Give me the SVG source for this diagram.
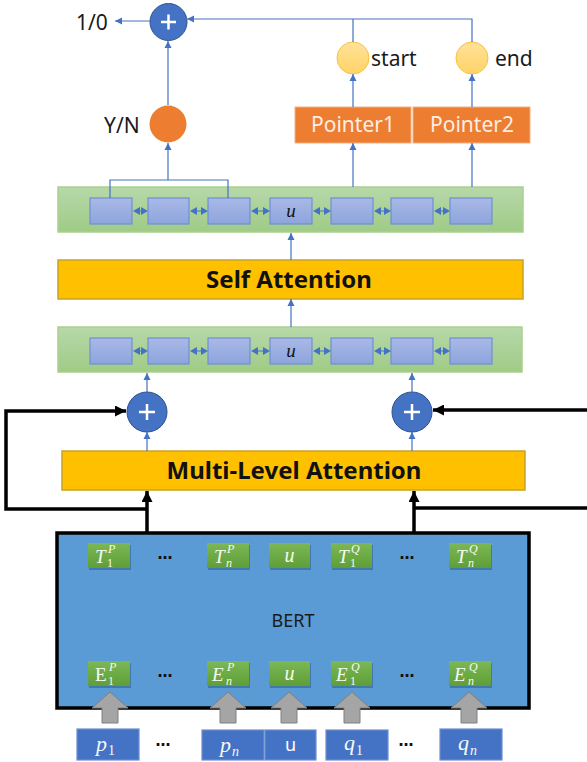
<svg xmlns="http://www.w3.org/2000/svg" width="587" height="762" viewBox="0 0 587 762">
<defs>
<style>
.lbl{font-family:"Noto Sans","DejaVu Sans",sans-serif;fill:#1a1a1a}
.big{font-family:"Noto Sans","DejaVu Sans",sans-serif;font-weight:bold;font-size:24px;fill:#111;text-anchor:middle}
.ptr{font-family:"Noto Sans","DejaVu Sans",sans-serif;font-size:21px;fill:#FCEEE4;text-anchor:middle}
.mw{font-family:"Liberation Serif","DejaVu Serif",serif;fill:#F7FAF4}
.i{font-style:italic}
.dots{font-family:"DejaVu Sans",sans-serif;font-size:15px;font-weight:bold;fill:#111;text-anchor:middle}
.bl{stroke:#4472C4;stroke-width:1.2;fill:none}
.bk{stroke:#000;stroke-width:3.5;fill:none}
.panel{fill:url(#gp);stroke:#A9D18E;stroke-width:1.5}
.cell{fill:url(#gc);stroke:#6F90D3;stroke-width:1.2}
.gcell{fill:url(#gg)}
.sh{fill:#2E5D8A;opacity:.55}
.bot{fill:#4472C4;stroke:#6D8ED0;stroke-width:1.2}
.gray{fill:#A5A5A5;stroke:#808080;stroke-width:1}
.plus{fill:#4472C4;stroke:#2F528F;stroke-width:1}
.pl{stroke:#fff;stroke-width:2.5}
.att{fill:#FFC000;stroke:#C9A227;stroke-width:1.5}
.or{fill:#ED7D31;stroke:#F4B183;stroke-width:1}
.yc{fill:url(#gy);stroke:#F5C244;stroke-width:1}
.da{fill:#4472C4}
</style>
<linearGradient id="gp" x1="0" y1="0" x2="0" y2="1"><stop offset="0" stop-color="#B7D8A9"/><stop offset="1" stop-color="#9FCB86"/></linearGradient>
<linearGradient id="gc" x1="0" y1="0" x2="0" y2="1"><stop offset="0" stop-color="#A9B9E7"/><stop offset="1" stop-color="#8DA4DC"/></linearGradient>
<linearGradient id="gg" x1="0" y1="0" x2="0" y2="1"><stop offset="0" stop-color="#7CB855"/><stop offset="1" stop-color="#5E9E38"/></linearGradient>
<linearGradient id="gy" x1="0" y1="0" x2="0" y2="1"><stop offset="0" stop-color="#FFE29A"/><stop offset="1" stop-color="#FFD366"/></linearGradient>
<marker id="ab" viewBox="0 0 10 10" refX="10" refY="5" markerWidth="7" markerHeight="8" markerUnits="userSpaceOnUse" orient="auto"><path d="M0,0 L10,5 L0,10 z" fill="#4472C4"/></marker>
<marker id="ak" viewBox="0 0 10 10" refX="10" refY="5" markerWidth="11" markerHeight="11" markerUnits="userSpaceOnUse" orient="auto"><path d="M0,0 L10,5 L0,10 z" fill="#000"/></marker>
</defs>
<rect width="587" height="762" fill="#fff"/>

<!-- BERT block -->
<g id="bert">
<rect x="57" y="533" width="472" height="175" fill="#5B9BD5" stroke="#000" stroke-width="3.5"/>
<text class="lbl" x="293" y="627" font-size="18" text-anchor="middle" fill="#0d0d0d">BERT</text>
</g>
<g id="t-row">
<rect class="sh" x="89" y="545" width="42" height="25"/><rect class="gcell" x="88" y="543" width="42" height="25"/>
<text class="mw" font-size="19"><tspan class="i" x="95" y="563">T</tspan><tspan font-size="12" x="107" y="567">1</tspan><tspan class="i" font-size="12" x="108" y="553">P</tspan></text>
<text class="dots" x="165" y="559">…</text>
<rect class="sh" x="208" y="545" width="42" height="25"/><rect class="gcell" x="207" y="543" width="42" height="25"/>
<text class="mw" font-size="19"><tspan class="i" x="214" y="563">T</tspan><tspan class="i" font-size="12" x="226" y="567">n</tspan><tspan class="i" font-size="12" x="227" y="553">P</tspan></text>
<rect class="sh" x="270" y="545" width="41" height="25"/><rect class="gcell" x="269" y="543" width="41" height="25"/>
<text class="mw i" x="289.5" y="562" font-size="20" text-anchor="middle">u</text>
<rect class="sh" x="332" y="545" width="41" height="25"/><rect class="gcell" x="331" y="543" width="41" height="25"/>
<text class="mw" font-size="19"><tspan class="i" x="338" y="563">T</tspan><tspan font-size="12" x="350" y="567">1</tspan><tspan class="i" font-size="12" x="351" y="553">Q</tspan></text>
<text class="dots" x="407" y="559">…</text>
<rect class="sh" x="450" y="545" width="42" height="25"/><rect class="gcell" x="449" y="543" width="42" height="25"/>
<text class="mw" font-size="19"><tspan class="i" x="456" y="563">T</tspan><tspan class="i" font-size="12" x="468" y="567">n</tspan><tspan class="i" font-size="12" x="469" y="553">Q</tspan></text>
</g>
<g id="e-row">
<rect class="sh" x="89" y="663" width="42" height="25"/><rect class="gcell" x="88" y="661" width="42" height="25"/>
<text class="mw" font-size="19"><tspan x="95" y="681">E</tspan><tspan font-size="12" x="108" y="685">1</tspan><tspan class="i" font-size="12" x="109" y="671">P</tspan></text>
<text class="dots" x="165" y="677">…</text>
<rect class="sh" x="208" y="663" width="42" height="25"/><rect class="gcell" x="207" y="661" width="42" height="25"/>
<text class="mw" font-size="19"><tspan class="i" x="212" y="681">E</tspan><tspan class="i" font-size="12" x="226" y="685">n</tspan><tspan class="i" font-size="12" x="227" y="671">P</tspan></text>
<rect class="sh" x="270" y="663" width="41" height="25"/><rect class="gcell" x="269" y="661" width="41" height="25"/>
<text class="mw i" x="289.5" y="680" font-size="20" text-anchor="middle">u</text>
<rect class="sh" x="332" y="663" width="41" height="25"/><rect class="gcell" x="331" y="661" width="41" height="25"/>
<text class="mw" font-size="19"><tspan class="i" x="336" y="681">E</tspan><tspan font-size="12" x="350" y="685">1</tspan><tspan class="i" font-size="12" x="351" y="671">Q</tspan></text>
<text class="dots" x="407" y="677">…</text>
<rect class="sh" x="450" y="663" width="42" height="25"/><rect class="gcell" x="449" y="661" width="42" height="25"/>
<text class="mw" font-size="19"><tspan class="i" x="454" y="681">E</tspan><tspan class="i" font-size="12" x="468" y="685">n</tspan><tspan class="i" font-size="12" x="469" y="671">Q</tspan></text>
</g>

<!-- gray input arrows -->
<g id="inputs-arrows">
<polygon class="gray" points="110,692 128,708 118,708 118,723 102,723 102,708 92,708"/>
<polygon class="gray" points="228,692 246,708 236,708 236,723 220,723 220,708 210,708"/>
<polygon class="gray" points="289,692 307,708 297,708 297,723 281,723 281,708 271,708"/>
<polygon class="gray" points="352,692 370,708 360,708 360,723 344,723 344,708 334,708"/>
<polygon class="gray" points="469,692 487,708 477,708 477,723 461,723 461,708 451,708"/>
</g>
<g id="inputs">
<rect class="bot" x="77" y="729" width="62" height="31"/>
<text class="mw" font-size="22"><tspan class="i" x="96" y="751">p</tspan><tspan font-size="14" x="108" y="755">1</tspan></text>
<text class="dots" x="163" y="746">…</text>
<rect class="bot" x="202" y="730" width="62" height="30"/>
<text class="mw" font-size="22"><tspan class="i" x="220" y="752">p</tspan><tspan class="i" font-size="14" x="232" y="756">n</tspan></text>
<rect class="bot" x="265" y="730" width="51" height="30"/>
<text x="290.5" y="751" font-size="18" font-family="Noto Sans, DejaVu Sans, sans-serif" fill="#fff" text-anchor="middle">u</text>
<rect class="bot" x="326" y="730" width="62" height="30"/>
<text class="mw" font-size="22"><tspan class="i" x="344" y="750">q</tspan><tspan font-size="14" x="356" y="755">1</tspan></text>
<text class="dots" x="406" y="746">…</text>
<rect class="bot" x="440" y="729" width="62" height="31"/>
<text class="mw" font-size="22"><tspan class="i" x="458" y="750">q</tspan><tspan class="i" font-size="14" x="470" y="755">n</tspan></text>
</g>

<!-- Multi-Level Attention -->
<g id="mla">
<rect class="att" x="62" y="451" width="463" height="39"/>
<text class="big" x="294" y="479">Multi-Level Attention</text>
</g>
<g id="plus-left"><circle class="plus" cx="147" cy="412" r="20"/><path class="pl" d="M139,412 H155 M147,404 V420"/></g>
<g id="plus-right"><circle class="plus" cx="412" cy="412" r="20"/><path class="pl" d="M404,412 H420 M412,404 V420"/></g>

<!-- middle sequence -->
<g id="seq-mid">
<rect class="panel" x="58" y="327" width="464" height="45"/>
<rect class="cell" x="90" y="338" width="42" height="26"/>
<rect class="cell" x="148" y="338" width="41" height="26"/>
<rect class="cell" x="208" y="338" width="42" height="26"/>
<rect class="cell" x="270" y="338" width="42" height="26"/>
<text x="291" y="357" font-size="19" font-style="italic" font-family="Liberation Serif, DejaVu Serif, serif" text-anchor="middle" fill="#111">u</text>
<rect class="cell" x="331" y="338" width="42" height="26"/>
<rect class="cell" x="391" y="338" width="42" height="26"/>
<rect class="cell" x="450" y="338" width="42" height="26"/>
</g>

<g id="self-attention">
<rect class="att" x="58" y="260" width="465" height="39"/>
<text class="big" x="289" y="288">Self Attention</text>
</g>

<!-- top sequence -->
<g id="seq-top">
<rect class="panel" x="58" y="187" width="465" height="45"/>
<rect class="cell" x="90" y="198" width="42" height="26"/>
<rect class="cell" x="148" y="198" width="41" height="26"/>
<rect class="cell" x="208" y="198" width="42" height="26"/>
<rect class="cell" x="270" y="198" width="42" height="26"/>
<text x="291" y="217" font-size="19" font-style="italic" font-family="Liberation Serif, DejaVu Serif, serif" text-anchor="middle" fill="#111">u</text>
<rect class="cell" x="331" y="198" width="42" height="26"/>
<rect class="cell" x="391" y="198" width="42" height="26"/>
<rect class="cell" x="450" y="198" width="42" height="26"/>
</g>

<g id="pointer1"><rect class="or" x="295" y="107" width="116" height="36"/><text class="ptr" x="353" y="132">Pointer1</text></g>
<g id="pointer2"><rect class="or" x="413" y="107" width="117" height="36"/><text class="ptr" x="472" y="132">Pointer2</text></g>
<g id="start"><circle class="yc" cx="353" cy="58" r="16"/><text class="lbl" x="371" y="66" font-size="21">start</text></g>
<g id="end"><circle class="yc" cx="472" cy="58" r="16"/><text class="lbl" x="495" y="66" font-size="21">end</text></g>
<g id="yn"><circle cx="168" cy="124" r="18.5" fill="#ED7D31"/><text class="lbl" x="104" y="133" font-size="21">Y/N</text></g>
<g id="plus-top"><circle class="plus" cx="168.5" cy="22" r="18.5"/><path class="pl" d="M161,22 H176 M168.5,14.5 V29.5"/></g>
<g id="out"><text class="lbl" x="76" y="30" font-size="21">1/0</text></g>

<!-- connectors -->
<g id="connectors">
<line class="bl" x1="150" y1="21" x2="115" y2="21" marker-end="url(#ab)"/>
<path class="bl" d="M472,42 V19 H187" marker-end="url(#ab)"/>
<line class="bl" x1="353" y1="42" x2="353" y2="19"/>
<line class="bl" x1="168" y1="105" x2="168" y2="41" marker-end="url(#ab)"/>
<path class="bl" d="M110,198 V180 H228 V198"/>
<line class="bl" x1="168" y1="180" x2="168" y2="143" marker-end="url(#ab)"/>
<line class="bl" x1="353" y1="187" x2="353" y2="143" marker-end="url(#ab)"/>
<line class="bl" x1="472" y1="187" x2="472" y2="143" marker-end="url(#ab)"/>
<line class="bl" x1="353" y1="107" x2="353" y2="74" marker-end="url(#ab)"/>
<line class="bl" x1="472" y1="107" x2="472" y2="74" marker-end="url(#ab)"/>
<line class="bl" x1="291" y1="260" x2="291" y2="233" marker-end="url(#ab)"/>
<line class="bl" x1="291" y1="327" x2="291" y2="299" marker-end="url(#ab)"/>
<line class="bl" x1="147" y1="392" x2="147" y2="373" marker-end="url(#ab)"/>
<line class="bl" x1="412" y1="392" x2="412" y2="373" marker-end="url(#ab)"/>
<line class="bl" x1="147" y1="451" x2="147" y2="432" marker-end="url(#ab)"/>
<line class="bl" x1="412" y1="451" x2="412" y2="432" marker-end="url(#ab)"/>
<!-- bidirectional links -->
<g class="da">
<path d="M133,211 L140,207 V215 z M148,211 L141,207 V215 z"/>
<path d="M190,211 L197,207 V215 z M208,211 L201,207 V215 z"/>
<path d="M251,211 L258,207 V215 z M270,211 L263,207 V215 z"/>
<path d="M313,211 L320,207 V215 z M331,211 L324,207 V215 z"/>
<path d="M374,211 L381,207 V215 z M391,211 L384,207 V215 z"/>
<path d="M434,211 L441,207 V215 z M450,211 L443,207 V215 z"/>
<path d="M133,351 L140,347 V355 z M148,351 L141,347 V355 z"/>
<path d="M190,351 L197,347 V355 z M208,351 L201,347 V355 z"/>
<path d="M251,351 L258,347 V355 z M270,351 L263,347 V355 z"/>
<path d="M313,351 L320,347 V355 z M331,351 L324,347 V355 z"/>
<path d="M374,351 L381,347 V355 z M391,351 L384,347 V355 z"/>
<path d="M434,351 L441,347 V355 z M450,351 L443,347 V355 z"/>
</g>
<path class="bl" d="M140,211 H141 M197,211 H201 M258,211 H263 M320,211 H324 M381,211 H384 M441,211 H443 M140,351 H141 M197,351 H201 M258,351 H263 M320,351 H324 M381,351 H384 M441,351 H443"/>
<!-- black residual paths -->
<line class="bk" x1="147" y1="532" x2="147" y2="491" marker-end="url(#ak)"/>
<line class="bk" x1="414" y1="532" x2="414" y2="491" marker-end="url(#ak)"/>
<path class="bk" d="M147,509 H6 V411 H126" marker-end="url(#ak)"/>
<path class="bk" d="M414,508 H590"/>
<path class="bk" d="M590,410 H433" marker-end="url(#ak)"/>
</g>
</svg>
